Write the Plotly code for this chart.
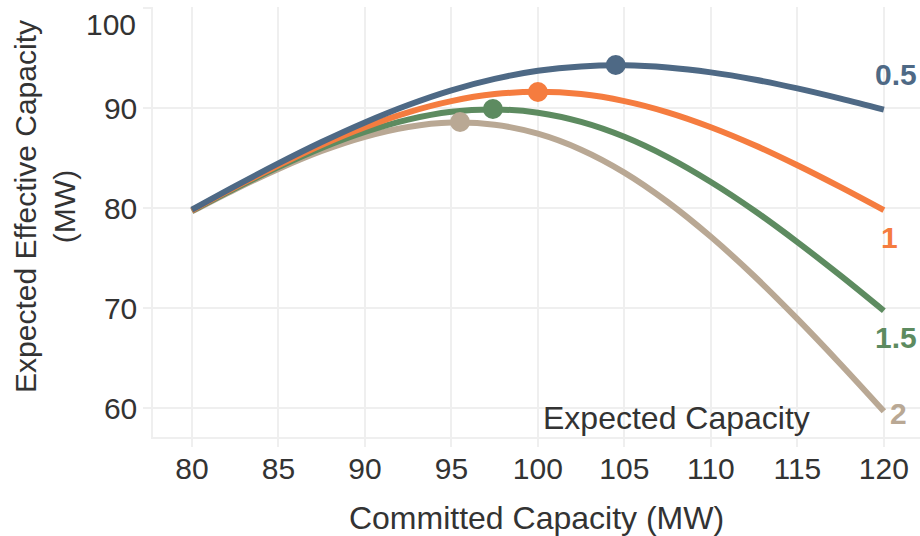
import plotly.graph_objects as go

# ---- data ----
committed = [80, 82.5, 85, 87.5, 90, 92.5, 95, 97.5, 100, 102.5, 105, 107.5, 110, 112.5, 115, 117.5, 120]

series_names = ["0.5", "1", "1.5", "2"]
eff_05 = [79.83, 82.19, 84.46, 86.60, 88.56, 90.30, 91.77, 92.91, 93.72, 94.16, 94.27, 94.05, 93.56, 92.85, 91.96, 90.94, 89.84]
eff_10 = [79.77, 82.09, 84.27, 86.30, 88.08, 89.57, 90.69, 91.39, 91.62, 91.39, 90.69, 89.57, 88.08, 86.30, 84.27, 82.08, 79.78]
eff_15 = [79.72, 81.98, 84.09, 86.00, 87.60, 88.84, 89.62, 89.86, 89.53, 88.61, 87.12, 85.09, 82.60, 79.75, 76.59, 73.23, 69.72]
eff_20 = [79.66, 81.88, 83.91, 85.70, 87.12, 88.10, 88.54, 88.33, 87.43, 85.83, 83.54, 80.60, 77.12, 73.20, 68.91, 64.38, 59.67]

peak_x = [104.5, 100.0, 97.4, 95.5]
peak_y = [94.3, 91.6, 89.9, 88.6]

x_ticks = [80, 85, 90, 95, 100, 105, 110, 115, 120]
y_ticks = [60, 70, 80, 90, 100]
y_tick_text = ["60", "70", "80", "90", ""]

annotation_text = "Expected Capacity"
x_title = "Committed Capacity (MW)"
y_title = "Expected Effective Capacity<br>(MW)"

# ---- styling ----
colors = ["#4e6985", "#f57c3f", "#5d8b60", "#b9a894"]
label_pos = [(120.69, 93.35), (120.35, 77.1), (120.7, 67.1), (120.87, 59.5)]
FONT = "Liberation Sans, Arial, sans-serif"
GRID = "#efefef"
TXT = "#333333"

values = [eff_05, eff_10, eff_15, eff_20]

fig = go.Figure()
# draw in reverse so that the 0.5 curve sits on top
for i in reversed(range(4)):
    fig.add_trace(go.Scatter(
        x=committed, y=values[i], mode="lines", line_shape="spline",
        line=dict(color=colors[i], width=6), name=series_names[i],
        showlegend=False, hoverinfo="skip"))
for i in reversed(range(4)):
    fig.add_trace(go.Scatter(
        x=[peak_x[i]], y=[peak_y[i]], mode="markers",
        marker=dict(color=colors[i], size=20), showlegend=False, hoverinfo="skip"))

annotations = []
for i in range(4):
    annotations.append(dict(
        x=label_pos[i][0], y=label_pos[i][1], xref="x", yref="y",
        text="<b>%s</b>" % series_names[i], showarrow=False,
        font=dict(family=FONT, size=30, color=colors[i]),
        xanchor="center", yanchor="middle"))

annotations.append(dict(
    x=108.0, y=59.0, xref="x", yref="y", text=annotation_text, showarrow=False,
    font=dict(family=FONT, size=32, color=TXT), xanchor="center", yanchor="middle"))

# "100" label (sits slightly below its gridline in the reference)
annotations.append(dict(
    x=-0.0195, y=(437 - 25) / 430, xref="paper", yref="paper", text="100", showarrow=False,
    font=dict(family=FONT, size=30, color=TXT), xanchor="right", yanchor="middle"))

# y-axis title
annotations.append(dict(
    x=(45 - 153) / 767, y=(437 - 207) / 430, xref="paper", yref="paper", text=y_title,
    showarrow=False, textangle=-90, font=dict(family=FONT, size=30, color=TXT),
    xanchor="center", yanchor="middle"))

fig.update_layout(
    width=920, height=536,
    margin=dict(l=153, r=0, t=7, b=99),
    paper_bgcolor="white", plot_bgcolor="white",
    font=dict(family=FONT, size=30, color=TXT),
    annotations=annotations,
    xaxis=dict(
        range=[77.75, 122.09], tickvals=x_ticks, showgrid=True, gridcolor=GRID, gridwidth=1.5,
        zeroline=False, showline=True, linecolor=GRID, linewidth=1.5,
        ticks="outside", ticklen=8, tickcolor=GRID, tickwidth=1.5, ticklabelstandoff=-4,
        tickfont=dict(family=FONT, size=30, color=TXT),
        title=dict(text=x_title, font=dict(family=FONT, size=32, color=TXT), standoff=24)),
    yaxis=dict(
        range=[57.1, 100.1], tickvals=y_ticks, ticktext=y_tick_text, showgrid=True,
        gridcolor=GRID, gridwidth=1.5, zeroline=False, showline=True, linecolor=GRID,
        linewidth=1.5, ticks="outside", ticklen=8, tickcolor=GRID, tickwidth=1.5,
        tickfont=dict(family=FONT, size=30, color=TXT)),
)

fig.write_html("out.html", config={"displayModeBar": False},
               post_script="document.body.style.margin='0';document.body.style.padding='0';")
